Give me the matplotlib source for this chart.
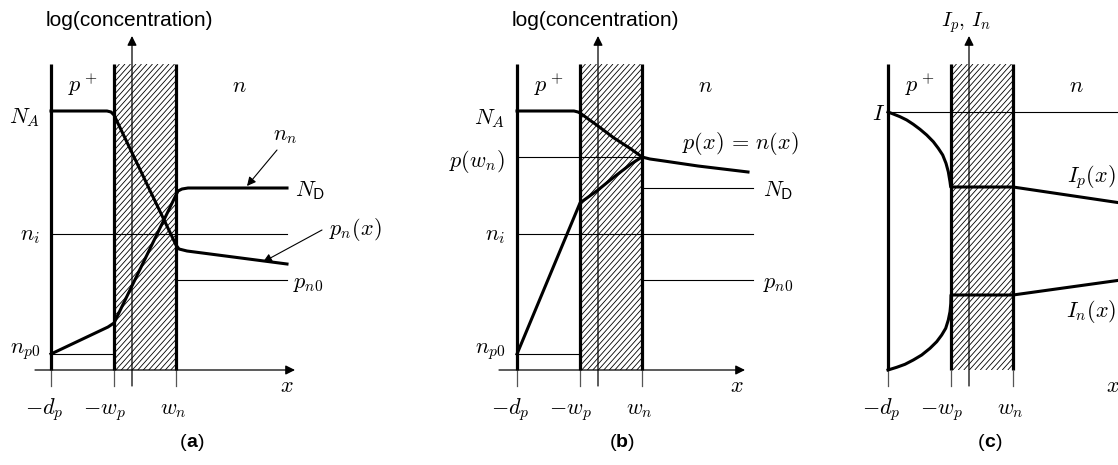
import numpy as np
import matplotlib.pyplot as plt
from matplotlib.patches import Rectangle
from matplotlib.collections import LineCollection

plt.rcParams['font.family'] = 'Liberation Sans'
plt.rcParams['mathtext.fontset'] = 'cm'

W, H = 1118, 465
x_row = 370          # pixel row of the x axis
fs = 16              # size of the symbols

# boundaries -d_p, -w_p, 0, w_n  (one unit = one pixel)
bounds = [-81, -18, 0, 44]
bound_labels = [r'$-d_p$', r'$-w_p$', r'$w_n$']
top = 306

### (a) concentrations, forward bias ###
a_NA, a_ND, a_ni, a_pn0, a_np0 = 259, 182, 136, 90, 16
a_hole_x = [-81, -25, -21, -18, 44, 47, 55, 155]
a_hole_y = [259, 259, 258, 255, 125, 121, 119, 106]
a_elec_x = [-81, -24, -18, 44, 46, 50, 56, 155]
a_elec_y = [16, 43, 47, 175, 179, 181, 182, 182]

### (b) concentrations, high injection ###
b_NA, b_pwn, b_ND, b_ni, b_pn0, b_np0 = 259, 213, 182, 136, 90, 16
b_hole_x = [-81, -24, -20, -18, 0, 16, 33, 44, 52, 66, 100, 150]
b_hole_y = [259, 259, 258, 257, 244, 232, 221, 213, 211, 209, 204, 198]
b_elec_x = [-81, -18, 0, 16, 33, 44]
b_elec_y = [16, 167, 180, 193, 206, 213]

### (c) currents ###
c_I = 258
c_Ip_x = [-81, -75.7, -69, -62.3, -55.7, -49, -42.3, -35.7, -30.7, -26.3,
          -23, -20.7, -19, -18.3, -18, 44, 152]
c_Ip_y = [258, 256, 253.3, 250, 245.7, 240.7, 235, 228.3, 221.7, 215,
          206.7, 198.3, 188.3, 183, 183, 183, 167]
c_In_x = [-81, -72.3, -64, -55.7, -47.3, -39, -32.3, -27.3, -23.3, -20.7,
          -19, -18.2, -18, 44, 152]
c_In_y = [0, 2.7, 5.7, 10, 15, 21.7, 28.3, 35, 41.7, 50,
          58.3, 66.7, 75, 75, 90]

fig = plt.figure(figsize=(W/100, H/100), dpi=100)


def make_axes(origin):
    ax = fig.add_axes([0, 0, 1, 1])
    ax.set_xlim(-origin, W - origin)
    ax.set_ylim(x_row - H, x_row)
    ax.axis('off')
    ax.patch.set_alpha(0)
    return ax


def arrow(ax, tail, tip, lw=0.9, size=14):
    ax.annotate('', xy=tip, xytext=tail,
                arrowprops=dict(arrowstyle='-|>', lw=lw, color='k',
                                mutation_scale=size, shrinkA=0, shrinkB=0))


def panel_label(ax, x, letter):
    # regular parentheses round a bold letter
    ax.text(x, -77, letter, ha='center', va='baseline', fontsize=14,
            fontweight='bold')
    ax.text(x - 6, -77, '(', ha='right', va='baseline', fontsize=14)
    ax.text(x + 6, -77, ')', ha='left', va='baseline', fontsize=14)


def frame(ax, title, x_left, x_right, letter, label_x):
    dp, wp, zero, wn = bounds
    # hatched depletion region
    rect = Rectangle((wp, 0), wn - wp, top, fill=False, lw=0)
    ax.add_patch(rect)
    step, slope = 5.5, 1.12
    run = top / slope
    segs = [[(c, 0), (c + run, top)] for c in np.arange(wp - run, wn + step, step)]
    lc = LineCollection(segs, colors='k', linewidths=0.6)
    ax.add_collection(lc)
    lc.set_clip_path(rect)
    # thick boundaries
    for b in (dp, wp, wn):
        ax.plot([b, b], [0, top], color='k', lw=2.3, solid_capstyle='butt')
        ax.plot([b, b], [0, -16], color='#555555', lw=0.9)
    # axes
    arrow(ax, (x_left, 0), (x_right, 0))
    arrow(ax, (0, -16), (0, 334))
    ax.text(-3, 344, title, ha='center', va='baseline', fontsize=15)
    ax.text(-49, 278, r'$p^+$', ha='center', va='baseline', fontsize=fs)
    ax.text(107, 278, r'$n$', ha='center', va='baseline', fontsize=fs)
    ax.text(x_right - 8, -22, r'$x$', ha='center', va='baseline', fontsize=fs)
    for b, t, off in zip((dp, wp, wn), bound_labels, (-7, -10, -3)):
        ax.text(b + off, -44, t, ha='center', va='baseline', fontsize=fs)
    panel_label(ax, label_x, letter)


def hline(ax, x0, x1, y):
    ax.plot([x0, x1], [y, y], color='k', lw=0.8)


### panel (a) ###
ax = make_axes(132)
frame(ax, 'log(concentration)', -97, 163, 'a', 60)
hline(ax, -81, 155, a_ni)
hline(ax, 44, 155, a_pn0)
hline(ax, -81, -18, a_np0)
ax.plot(a_hole_x, a_hole_y, color='k', lw=2.2, solid_joinstyle='round')
ax.plot(a_elec_x, a_elec_y, color='k', lw=2.2, solid_joinstyle='round')
ax.text(-92, 247, r'$N_A$', ha='right', va='baseline', fontsize=fs)
ax.text(-92, 130, r'$n_i$', ha='right', va='baseline', fontsize=fs)
ax.text(-92, 17, r'$n_{p\mathsf{0}}$', ha='right', va='baseline', fontsize=fs)
ax.text(163, 174, r'$N_{\mathsf{D}}$', ha='left', va='baseline', fontsize=fs)
ax.text(141, 230, r'$n_n$', ha='left', va='baseline', fontsize=fs)
ax.text(197, 135, r'$p_n(x)$', ha='left', va='baseline', fontsize=fs)
ax.text(161, 82, r'$p_{n\mathsf{0}}$', ha='left', va='baseline', fontsize=fs)
arrow(ax, (145, 220), (115, 184), lw=0.8, size=13)
arrow(ax, (190, 140), (131, 108), lw=0.8, size=13)

### panel (b) ###
ax = make_axes(598)
frame(ax, 'log(concentration)', -99, 147, 'b', 24)
hline(ax, -81, 44, b_pwn)
hline(ax, 44, 155, b_ND)
hline(ax, -81, 155, b_ni)
hline(ax, 44, 155, b_pn0)
hline(ax, -81, -18, b_np0)
ax.plot(b_hole_x, b_hole_y, color='k', lw=2.2, solid_joinstyle='round')
ax.plot(b_elec_x, b_elec_y, color='k', lw=2.2, solid_joinstyle='round')
ax.text(-93, 246, r'$N_A$', ha='right', va='baseline', fontsize=fs)
ax.text(-93, 203, r'$p(w_n)$', ha='right', va='baseline', fontsize=fs)
ax.text(-93, 130, r'$n_i$', ha='right', va='baseline', fontsize=fs)
ax.text(-93, 17, r'$n_{p\mathsf{0}}$', ha='right', va='baseline', fontsize=fs)
ax.text(84, 221, r'$p(x)\,=\,n(x)$', ha='left', va='baseline', fontsize=fs)
ax.text(165, 174, r'$N_{\mathsf{D}}$', ha='left', va='baseline', fontsize=fs)
ax.text(165, 82, r'$p_{n\mathsf{0}}$', ha='left', va='baseline', fontsize=fs)

### panel (c) ###
ax = make_axes(969)
frame(ax, r'$I_p,\,I_n$', -97, 152, 'c', 21)
hline(ax, -81, 160, c_I)
ax.plot(c_Ip_x, c_Ip_y, color='k', lw=2.2, solid_joinstyle='round')
ax.plot(c_In_x, c_In_y, color='k', lw=2.2, solid_joinstyle='round')
ax.text(-84, 250, r'$I$', ha='right', va='baseline', fontsize=fs)
ax.text(147, 188, r'$I_p(x)$', ha='right', va='baseline', fontsize=fs)
ax.text(147, 53, r'$I_n(x)$', ha='right', va='baseline', fontsize=fs)

fig.savefig('out.png', dpi=100)
